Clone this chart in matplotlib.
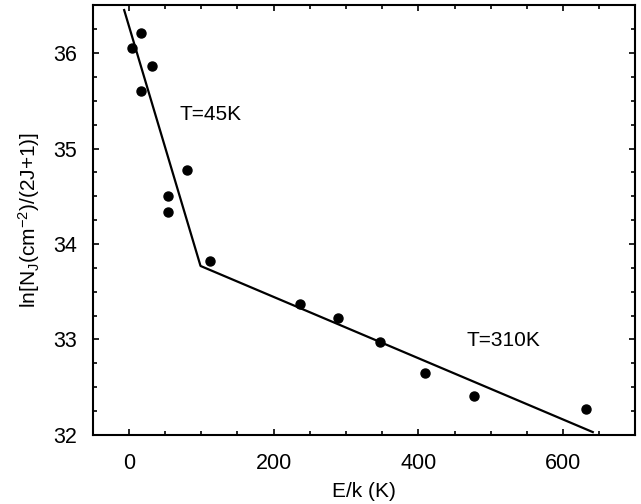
import matplotlib.pyplot as plt
from matplotlib.ticker import MultipleLocator

plt.rcParams['font.family'] = ['Liberation Sans', 'DejaVu Sans']
plt.rcParams['mathtext.fontset'] = 'custom'
plt.rcParams['mathtext.rm'] = 'Liberation Sans'
plt.rcParams['mathtext.it'] = 'Liberation Sans'

# rotational population diagram: measured levels
energy = [5, 16.5, 16.5, 31.5, 53.5, 53.5, 80, 112, 237, 289, 347, 409, 477, 631]
ln_pop = [36.05, 36.21, 35.60, 35.86, 34.50, 34.33, 34.78, 33.82,
          33.37, 33.22, 32.97, 32.65, 32.41, 32.27]

# two-temperature fit (cold / warm component)
fit_x = [-6.5, 99, 641]
fit_y = [36.45, 33.77, 32.03]

fig = plt.figure(figsize=(6.41, 5.04), dpi=100)
ax = fig.add_axes([0.1446, 0.137, 0.8468, 0.8525])

ax.plot(fit_x, fit_y, color='black', lw=1.6)
ax.plot(energy, ln_pop, 'o', color='black', ms=6.5)

ax.text(70, 35.36, 'T=45K', fontsize=15, va='center', ha='left')
ax.text(467, 32.99, 'T=310K', fontsize=15, va='center', ha='left')

ax.set_xlim(-50, 700)
ax.set_ylim(32, 36.5)
ax.xaxis.set_major_locator(MultipleLocator(200))
ax.xaxis.set_minor_locator(MultipleLocator(50))
ax.yaxis.set_major_locator(MultipleLocator(1))
ax.yaxis.set_minor_locator(MultipleLocator(0.25))
ax.tick_params(which='both', direction='in', top=True, right=True,
               labelsize=15.5, width=1.2)
ax.tick_params(which='major', length=4, pad=13)
ax.tick_params(which='minor', length=3)
ax.tick_params(axis='y', pad=11)
for s in ax.spines.values():
    s.set_linewidth(1.5)

ax.set_xlabel('E/k (K)', fontsize=15, labelpad=6)
ax.set_ylabel(r'ln[N$_\mathrm{J}$(cm$^{\mathrm{-2}}$)/(2J+1)]', fontsize=15, labelpad=8)

fig.savefig('out.png', dpi=100)
